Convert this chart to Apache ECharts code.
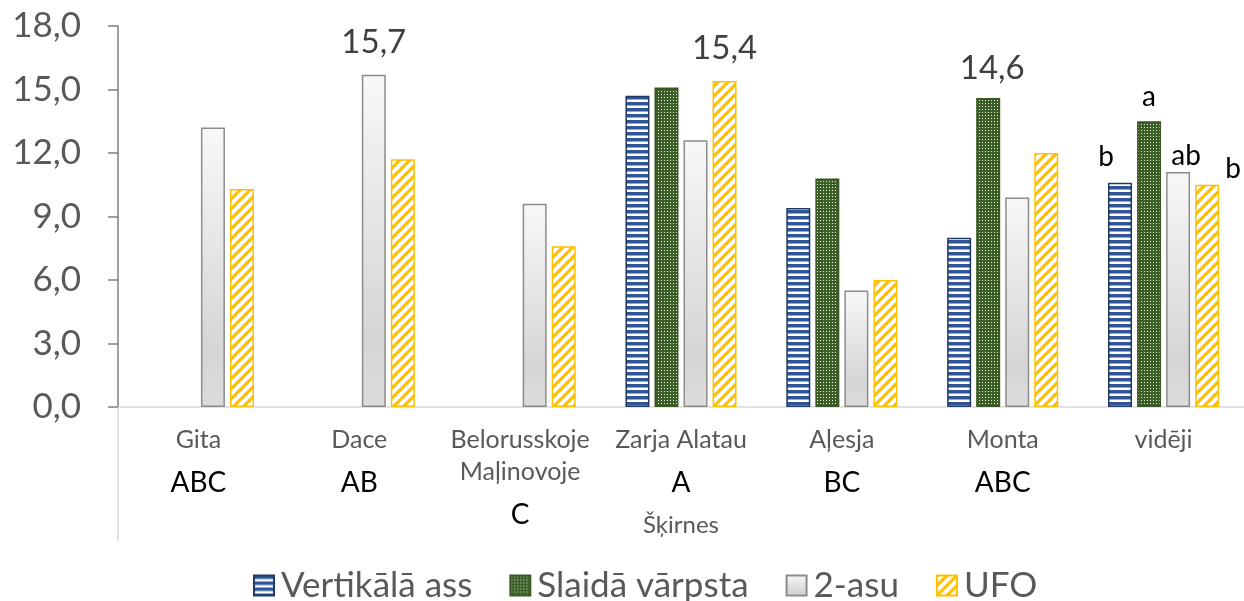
<!DOCTYPE html>
<html>
<head>
<meta charset="utf-8">
<script src="https://cdn.jsdelivr.net/npm/echarts@6/dist/echarts.min.js"></script>
<style>
html, body { margin: 0; padding: 0; background: #fff; }
#chart { width: 1244px; height: 601px; }
</style>
</head>
<body>
<div id="chart"></div>
<script>
// šķirnes un vidējās vērtības
var categories = ['Gita', 'Dace', 'Belorusskoje\nMaļinovoje', 'Zarja Alatau', 'Aļesja', 'Monta', 'vidēji'];
var groupLetters = ['ABC', 'AB', 'C', 'A', 'BC', 'ABC', ''];

var seriesNames = ['Vertikālā ass', 'Slaidā vārpsta', '2-asu', 'UFO'];
var vertikala = [null, null, null, 14.7, 9.4, 8.0, 10.6];
var slaida = [null, null, null, 15.1, 10.8, 14.6, 13.5];
var divasu = [13.2, 15.7, 9.6, 12.6, 5.5, 9.9, 11.1];
var ufo = [10.3, 11.7, 7.6, 15.4, 6.0, 12.0, 10.5];

// uzraksti virs stabiņiem ('#' = rādīt vērtību)
var lblVertikala = ['', '', '', '', '', '', 'b'];
var lblSlaida = ['', '', '', '', '', '#', 'a'];
var lblDivasu = ['', '#', '', '', '', '', 'ab'];
var lblUfo = ['', '', '', '#', '', '', 'b'];

var yTicks = [0, 3, 6, 9, 12, 15, 18];

function fmt(v) {
	return v.toFixed(1).replace('.', ',');
}

// rakstu faktūras
function makePattern(w, h, draw) {
	var c = document.createElement('canvas');
	c.width = w;
	c.height = h;
	var ctx = c.getContext('2d');
	draw(ctx);
	return { image: c, repeat: 'repeat' };
}

var blueStripes = makePattern(6, 6, function (ctx) {
	ctx.fillStyle = '#ffffff';
	ctx.fillRect(0, 0, 6, 6);
	ctx.fillStyle = '#2F5597';
	ctx.fillRect(0, 0, 6, 3.5);
});

var greenDots = makePattern(3, 3, function (ctx) {
	ctx.fillStyle = '#3A5E25';
	ctx.fillRect(0, 0, 3, 3);
	ctx.fillStyle = '#E8F0E0';
	ctx.fillRect(1, 1, 1, 1);
});

var yellowDiag = makePattern(10, 10, function (ctx) {
	ctx.fillStyle = '#ffffff';
	ctx.fillRect(0, 0, 10, 10);
	ctx.strokeStyle = '#FFC000';
	ctx.lineWidth = 3.2;
	ctx.beginPath();
	ctx.moveTo(-5, 5); ctx.lineTo(5, -5);
	ctx.moveTo(0, 10); ctx.lineTo(10, 0);
	ctx.moveTo(5, 15); ctx.lineTo(15, 5);
	ctx.stroke();
});

var grayGrad = {
	type: 'linear', x: 0, y: 0, x2: 0, y2: 1,
	colorStops: [
		{ offset: 0, color: '#F8F8F8' },
		{ offset: 0.8, color: '#D5D5D5' },
		{ offset: 1, color: '#DCDCDC' }
	]
};

// uzrakstu nobīdes [dx, distance]
var labelTweak = {
	'0-6': [-14, 12],
	'1-5': [4, 13],
	'1-6': [0, 10],
	'2-1': [0, 16],
	'2-6': [8, 2],
	'3-3': [0, 16],
	'3-6': [26, 2]
};

function buildData(values, labels, si) {
	var out = [];
	for (var i = 0; i < values.length; i++) {
		var item = { value: values[i] };
		var t = labels[i];
		if (t && values[i] != null) {
			var tw = labelTweak[si + '-' + i] || [0, 8];
			var isVal = t === '#';
			item.label = {
				show: true,
				position: 'top',
				distance: tw[1],
				offset: [tw[0], 0],
				formatter: isVal ? fmt(values[i]) : t,
				fontSize: isVal ? 33 : 28,
				color: isVal ? '#404040' : '#000000',
				fontFamily: 'Lato'
			};
		}
		out.push(item);
	}
	return out;
}

var myChart = echarts.init(document.getElementById('chart'));

var option = {
	animation: false,
	textStyle: { fontFamily: 'Lato' },
	grid: { left: 118, top: 26, width: 1130, bottom: 194 },
	legend: {
		data: seriesNames,
		left: 248,
		top: 563,
		icon: 'rect',
		itemWidth: 20,
		itemHeight: 20,
		itemGap: 37,
		textStyle: { fontSize: 35, color: '#595959', fontFamily: 'Lato', padding: [0, 0, 0, 2] }
	},
	xAxis: {
		type: 'category',
		data: categories,
		name: 'Šķirnes',
		nameLocation: 'middle',
		nameGap: 118,
		nameMoveOverlap: false,
		nameTextStyle: { fontSize: 24, color: '#595959', verticalAlign: 'middle' },
		axisLine: { lineStyle: { color: '#D9D9D9', width: 1.5 } },
		axisTick: { show: false },
		axisLabel: {
			interval: 0,
			margin: 17,
			formatter: function (value, idx) {
				var s = value.split('\n').map(function (l) { return '{n|' + l + '}'; }).join('\n');
				if (groupLetters[idx]) s += '\n{l|' + groupLetters[idx] + '}';
				return s;
			},
			rich: {
				n: { fontSize: 25, lineHeight: 32, color: '#595959', fontFamily: 'Lato' },
				l: { fontSize: 28, lineHeight: 54, color: '#000000', fontFamily: 'Lato' }
			}
		}
	},
	yAxis: {
		type: 'value',
		min: yTicks[0],
		max: yTicks[yTicks.length - 1],
		interval: 3,
		splitLine: { show: false },
		axisLine: { show: true, lineStyle: { color: '#7F7F7F', width: 1.5 } },
		axisTick: { show: true, length: 10, lineStyle: { color: '#7F7F7F', width: 1.5 } },
		axisLabel: { fontSize: 35, color: '#595959', margin: 37, formatter: fmt }
	},
	graphic: [{
		type: 'line',
		shape: { x1: 118, y1: 407, x2: 118, y2: 541 },
		style: { stroke: '#D9D9D9', lineWidth: 1.5 },
		silent: true
	}],
	series: [{
		name: seriesNames[0],
		type: 'bar',
		barWidth: 24,
		barGap: '21%',
		data: buildData(vertikala, lblVertikala, 0),
		itemStyle: { color: blueStripes, borderColor: '#1F3864', borderWidth: 1.5 }
	}, {
		name: seriesNames[1],
		type: 'bar',
		barWidth: 24,
		barGap: '21%',
		data: buildData(slaida, lblSlaida, 1),
		itemStyle: { color: greenDots, borderColor: '#385723', borderWidth: 1.5 }
	}, {
		name: seriesNames[2],
		type: 'bar',
		barWidth: 24,
		barGap: '21%',
		data: buildData(divasu, lblDivasu, 2),
		itemStyle: { color: grayGrad, borderColor: '#8C8C8C', borderWidth: 1.5 }
	}, {
		name: seriesNames[3],
		type: 'bar',
		barWidth: 24,
		barGap: '21%',
		data: buildData(ufo, lblUfo, 3),
		itemStyle: { color: yellowDiag, borderColor: '#FFC000', borderWidth: 1.5 }
	}]
};

myChart.setOption(option);
</script>
</body>
</html>
